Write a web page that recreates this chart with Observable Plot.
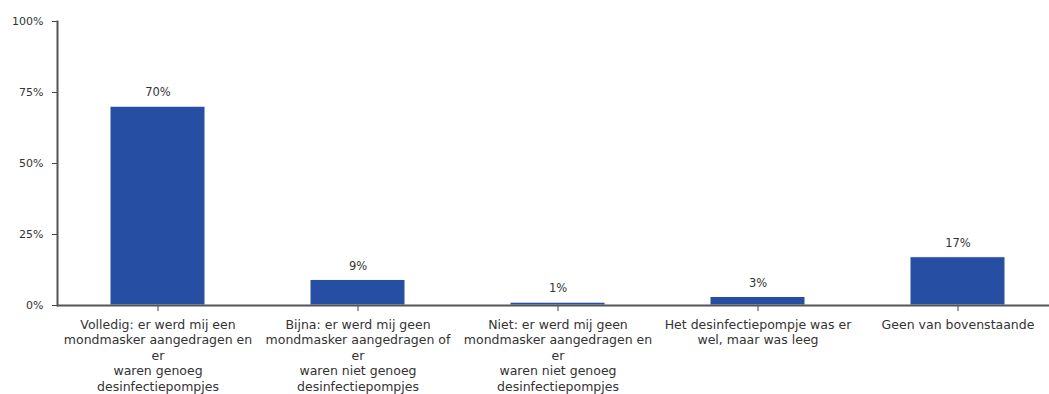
<!DOCTYPE html>
<html>
<head>
<meta charset="utf-8">
<script src="https://cdn.jsdelivr.net/npm/d3@7"></script>
<script src="https://cdn.jsdelivr.net/npm/@observablehq/plot@0.6"></script>
<style>
  html, body { margin: 0; padding: 0; background: #fff; }
  #chart svg { display: block; }
</style>
</head>
<body>
<div id="chart"></div>
<script>
// Answer categories (line breaks as shown under each bar)
const categories = [
  "Volledig: er werd mij een\nmondmasker aangedragen en\ner\nwaren genoeg\ndesinfectiepompjes",
  "Bijna: er werd mij geen\nmondmasker aangedragen of\ner\nwaren niet genoeg\ndesinfectiepompjes",
  "Niet: er werd mij geen\nmondmasker aangedragen en\ner\nwaren niet genoeg\ndesinfectiepompjes",
  "Het desinfectiepompje was er\nwel, maar was leeg",
  "Geen van bovenstaande"
];
// Share of respondents per category
const shares = [0.70, 0.09, 0.01, 0.03, 0.17];
// Y axis tick values
const yTicks = [0, 0.25, 0.5, 0.75, 1];

const data = categories.map((c, i) => ({category: c, share: shares[i]}));
const pct = d3.format(".0%");
const font = "DejaVu Sans, Verdana, sans-serif";

const chart = Plot.plot({
  width: 1049,
  height: 394,
  marginLeft: 57,
  marginRight: -8,
  marginTop: 21,
  marginBottom: 89,
  style: {fontFamily: font, fontSize: "11px", color: "#333", background: "#fff"},
  x: {domain: categories, paddingInner: 0.525, paddingOuter: 0.2625, align: 0.5, label: null},
  y: {domain: [0, 1], label: null},
  marks: [
    Plot.barY(data, {x: "category", y: "share", fill: "#264ea3", stroke: "#fff", strokeWidth: 1}),
    Plot.text(data, {x: "category", y: "share", text: d => pct(d.share), dy: -14, fill: "#333", fontSize: 11.5}),
    Plot.axisY({ticks: yTicks, tickFormat: pct, tickSize: 5, tickPadding: 9, stroke: "#444", fill: "#333", fontSize: 11}),
    Plot.axisX({tickSize: 6, tickPadding: 6, stroke: "#444", fill: "#333", lineHeight: 1.24, fontSize: 12.5, textAnchor: "middle"}),
    Plot.ruleY([0], {stroke: "#555", strokeWidth: 2}),
    Plot.frame({anchor: "left", stroke: "#555", strokeWidth: 2})
  ]
});
document.getElementById("chart").append(chart);
</script>
</body>
</html>
